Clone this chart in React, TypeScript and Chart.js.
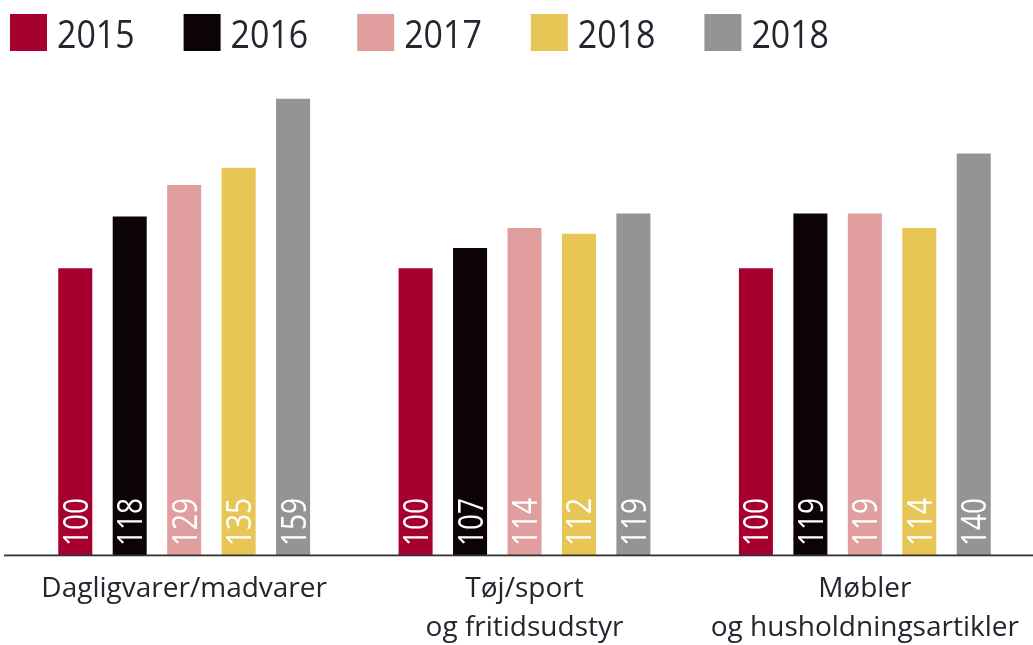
import { useEffect, useRef } from "react";
import { Chart, registerables } from "chart.js";

Chart.register(...registerables);

const categories: string[][] = [
  ["Dagligvarer/madvarer"],
  ["Tøj/sport", "og fritidsudstyr"],
  ["Møbler", "og husholdningsartikler"],
];
const seriesLabels = ["2015", "2016", "2017", "2018", "2018"];
const values2015 = [100, 100, 100];
const values2016 = [118, 107, 119];
const values2017 = [129, 114, 119];
const values2018 = [135, 112, 114];
const values2018b = [159, 119, 140];
const seriesColors = ["#A6002F", "#0B0304", "#E09E9F", "#E7C656", "#949497"];

const FONT = "'Open Sans', 'Noto Sans', sans-serif";
const TEXT_COLOR = "#25252f";

const overlayPlugin = {
  id: "overlay",
  afterDatasetsDraw(chart: any) {
    const ctx: CanvasRenderingContext2D = chart.ctx;
    const area = chart.chartArea;
    ctx.save();
    // baseline
    ctx.fillStyle = "#333333";
    ctx.fillRect(4, area.bottom - 0.5, chart.width, 1.8);

    // value labels inside bars (rotated)
    chart.data.datasets.forEach((ds: any, i: number) => {
      const meta = chart.getDatasetMeta(i);
      meta.data.forEach((bar: any, j: number) => {
        ctx.save();
        ctx.translate(bar.x + 12.5, area.bottom - 9);
        ctx.rotate(-Math.PI / 2);
        ctx.scale(0.8, 1);
        ctx.font = `35px ${FONT}`;
        ctx.fillStyle = "#ffffff";
        ctx.textAlign = "left";
        ctx.textBaseline = "alphabetic";
        ctx.fillText(String(ds.data[j]), 0, 0);
        ctx.restore();
      });
    });

    // legend
    const box = 37;
    const textGap = 10;
    const sx = 0.87;
    ctx.font = `39px ${FONT}`;
    const widths = chart.data.datasets.map(
      (ds: any) => box + textGap + ctx.measureText(ds.label).width * sx
    );
    const startX = 10;
    const endX = 829;
    const total = widths.reduce((a: number, b: number) => a + b, 0);
    const gap = (endX - startX - total) / (widths.length - 1);
    let x = startX;
    chart.data.datasets.forEach((ds: any, i: number) => {
      ctx.fillStyle = ds.backgroundColor;
      ctx.fillRect(x, 14, box, box);
      ctx.save();
      ctx.translate(x + box + textGap, 48);
      ctx.scale(sx, 1);
      ctx.fillStyle = TEXT_COLOR;
      ctx.textAlign = "left";
      ctx.textBaseline = "alphabetic";
      ctx.fillText(ds.label, 0, 0);
      ctx.restore();
      x += widths[i] + gap;
    });
    ctx.restore();
  },
};

export default function App() {
  const canvasRef = useRef<HTMLCanvasElement | null>(null);

  useEffect(() => {
    if (!canvasRef.current) return;
    const allValues = [values2015, values2016, values2017, values2018, values2018b];
    const chart = new Chart(canvasRef.current, {
      type: "bar",
      data: {
        labels: categories,
        datasets: allValues.map((vals, i) => ({
          label: seriesLabels[i],
          data: vals,
          backgroundColor: seriesColors[i],
          borderWidth: 0,
          categoryPercentage: 0.8,
          barPercentage: 0.625,
        })),
      },
      options: {
        animation: false,
        responsive: false,
        devicePixelRatio: 1,
        layout: { padding: { top: 96, left: 14, right: 5, bottom: 0 } },
        plugins: {
          legend: { display: false },
          tooltip: { enabled: false },
          title: { display: false },
        },
        scales: {
          x: {
            grid: { display: false, drawTicks: false },
            border: { display: false },
            afterFit: (scale: any) => {
              scale.height = 90;
            },
            ticks: {
              autoSkip: false,
              maxRotation: 0,
              minRotation: 0,
              padding: 15,
              color: TEXT_COLOR,
              font: { family: FONT, size: 28, lineHeight: 1.393 },
            },
          },
          y: {
            display: false,
            min: 0,
            max: 160,
          },
        },
      },
      plugins: [overlayPlugin],
    });
    return () => chart.destroy();
  }, []);

  return (
    <div
      style={{
        position: "absolute",
        left: 0,
        top: 0,
        width: 1033,
        height: 645,
        overflow: "hidden",
        background: "#ffffff",
      }}
    >
      <canvas ref={canvasRef} width={1040} height={645} style={{ width: 1040, height: 645, display: "block" }} />
    </div>
  );
}
